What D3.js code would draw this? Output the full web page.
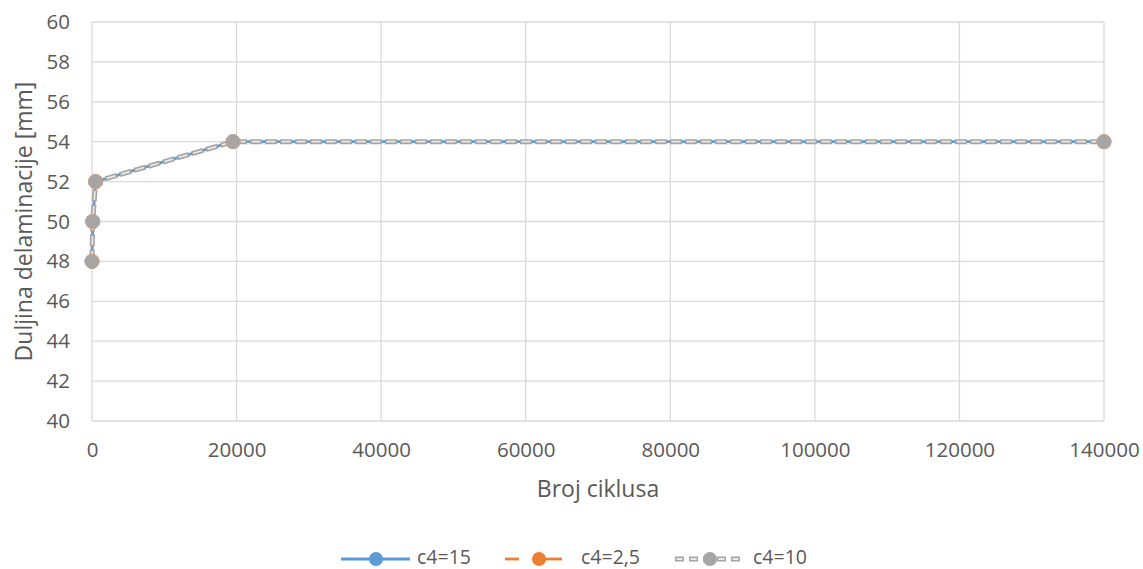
<!DOCTYPE html>
<html><head><meta charset="utf-8">
<script src="https://cdn.jsdelivr.net/npm/d3@7"></script>
<style>body{margin:0;background:#fff}text{font-family:"Open Sans","Liberation Sans",sans-serif}</style>
</head><body><svg id="c" width="1143" height="569"></svg>
<script>
const cycles = [0, 100, 500, 19500, 140000];
const s15 = [48, 50, 52, 54, 54];
const s25 = [48, 50, 52, 54, 54];
const s10 = [48, 50, 52, 54, 54];
const seriesNames = ["c4=15", "c4=2,5", "c4=10"];
const xTicks = [0, 20000, 40000, 60000, 80000, 100000, 120000, 140000];
const yTicks = [40, 42, 44, 46, 48, 50, 52, 54, 56, 58, 60];

const svg = d3.select("#c");
const W = 1143, H = 569;
const L = 92, R = 1104, T = 22, B = 421;
const x = d3.scaleLinear().domain([0, 140000]).range([L, R]);
const y = d3.scaleLinear().domain([40, 60]).range([B, T]);
const grid = "#d9d9d9", txt = "#595959";

// gridlines
svg.append("g").selectAll("line").data(yTicks).join("line")
  .attr("x1", L).attr("x2", R).attr("y1", d => y(d)).attr("y2", d => y(d))
  .attr("stroke", grid).attr("stroke-width", 1.3);
svg.append("g").selectAll("line").data(xTicks).join("line")
  .attr("x1", d => x(d)).attr("x2", d => x(d)).attr("y1", T).attr("y2", B)
  .attr("stroke", grid).attr("stroke-width", 1.3);

// axes
const ya = svg.append("g").attr("transform", `translate(${L},0)`)
  .call(d3.axisLeft(y).tickValues(yTicks).tickSize(0).tickPadding(22));
ya.select(".domain").remove();
ya.selectAll("text").attr("font-size", 20.5).attr("fill", txt).attr("font-family", "Open Sans");
const xa = svg.append("g").attr("transform", `translate(0,${B})`)
  .call(d3.axisBottom(x).tickValues(xTicks).tickSize(0).tickPadding(21).tickFormat(d3.format("d")));
xa.select(".domain").remove();
xa.selectAll("text").attr("font-size", 20.5).attr("fill", txt).attr("font-family", "Open Sans");

svg.append("text").attr("x", (L + R) / 2).attr("y", 497).attr("text-anchor", "middle")
  .attr("font-size", 23).attr("fill", txt).text("Broj ciklusa");
svg.append("text").attr("transform", `translate(32,${(T + B) / 2}) rotate(-90)`)
  .attr("text-anchor", "middle").attr("font-size", 23).attr("fill", txt).text("Duljina delaminacije [mm]");

const line = d3.line().x(d => x(d[0])).y(d => y(d[1]));
const pts = arr => cycles.map((c, i) => [c, arr[i]]);

const styles = [
  {data: s15, color: "#5b9bd5", dash: null},
  {data: s25, color: "#ed7d31", dash: "10,5"},
  {data: s10, color: "#a5a5a5", dash: "12,3", compound: true}
];

styles.forEach(s => {
  const p = svg.append("path").datum(pts(s.data)).attr("d", line).attr("fill", "none")
    .attr("stroke", s.color).attr("stroke-width", s.compound ? 5 : 2.8);
  if (s.dash) p.attr("stroke-dasharray", s.dash);
  if (s.compound) {
    svg.append("path").datum(pts(s.data)).attr("d", line).attr("fill", "none")
      .attr("stroke", "#fff").attr("stroke-opacity", 0.75).attr("stroke-width", 1.7)
      .attr("stroke-dasharray", "9,6").attr("stroke-dashoffset", -1.5);
  }
});
styles.forEach(s => {
  svg.append("g").selectAll("circle").data(pts(s.data)).join("circle")
    .attr("cx", d => x(d[0])).attr("cy", d => y(d[1])).attr("r", 7)
    .attr("fill", s.color).attr("stroke", s.compound ? "#c9a89a" : s.color).attr("stroke-width", 0.8);
});

// legend
const ly = 559;
const leg = [
  {x1: 341, x2: 410, mx: 376, tx: 417},
  {x1: 505, x2: 562, mx: 539, tx: 581},
  {x1: 675, x2: 745, mx: 710, tx: 753}
];
styles.forEach((s, i) => {
  const g = svg.append("g");
  if (i === 1) {
    g.append("line").attr("x1", leg[i].x1).attr("x2", leg[i].x1 + 14).attr("y1", ly).attr("y2", ly)
      .attr("stroke", s.color).attr("stroke-width", 2.8);
    g.append("line").attr("x1", leg[i].mx - 6).attr("x2", leg[i].x2).attr("y1", ly).attr("y2", ly)
      .attr("stroke", s.color).attr("stroke-width", 2.8);
  } else if (s.compound) {
    g.append("line").attr("x1", leg[i].x1).attr("x2", leg[i].x2).attr("y1", ly).attr("y2", ly)
      .attr("stroke", s.color).attr("stroke-width", 5).attr("stroke-dasharray", "9,5");
    g.append("line").attr("x1", leg[i].x1 + 1.5).attr("x2", leg[i].x2).attr("y1", ly).attr("y2", ly)
      .attr("stroke", "#fff").attr("stroke-width", 1.7).attr("stroke-dasharray", "6,8");
  } else {
    g.append("line").attr("x1", leg[i].x1).attr("x2", leg[i].x2).attr("y1", ly).attr("y2", ly)
      .attr("stroke", s.color).attr("stroke-width", 2.8);
  }
  g.append("circle").attr("cx", leg[i].mx).attr("cy", ly).attr("r", 7).attr("fill", s.color);
  g.append("text").attr("x", leg[i].tx).attr("y", ly + 5).attr("font-size", 19.5).attr("fill", txt)
    .text(seriesNames[i]);
});
</script></body></html>
